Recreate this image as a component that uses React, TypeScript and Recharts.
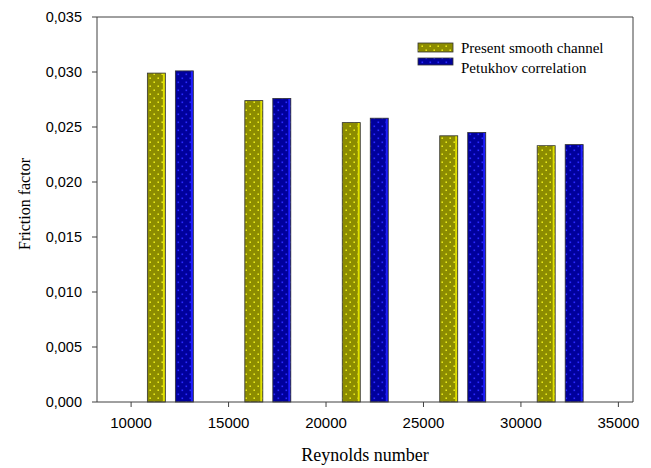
import React from 'react';
import { BarChart, Bar, XAxis, YAxis, ReferenceLine, Label } from 'recharts';

const reynolds = [12000, 17000, 22000, 27000, 32000];
const presentSmooth = [0.0299, 0.0274, 0.0254, 0.0242, 0.0233];
const petukhov = [0.0301, 0.0276, 0.0258, 0.0245, 0.0234];
const xTicks = [10000, 15000, 20000, 25000, 30000, 35000];
const yTicks = [0, 0.005, 0.01, 0.015, 0.02, 0.025, 0.03, 0.035];
const seriesNames = ['Present smooth channel', 'Petukhov correlation'];

const data = reynolds.map((re, i) => ({ re, present: presentSmooth[i], petukhov: petukhov[i] }));

const SERIF = '"Liberation Serif", "Times New Roman", serif';
const SANS = '"Liberation Sans", Arial, sans-serif';
const AXIS = '#404040';

const makeShape = (fillId: string, edge: string) => (props: any) => {
  const { x, y, width, height } = props;
  if (height <= 0) return null;
  return (
    <g>
      <rect x={x} y={y} width={width} height={height} fill={`url(#${fillId})`} />
      <rect x={x + width - 2.5} y={y} width={2} height={height} fill={edge} />
      <rect x={x} y={y} width={width} height={height} fill="none" stroke="#333" strokeWidth={0.8} />
    </g>
  );
};

const OliveShape = makeShape('olivePat', '#e0e000');
const BlueShape = makeShape('bluePat', '#1e1eff');

const PatternDefs = ({ prefix }: { prefix: string }) => (
  <defs>
    <pattern id={`${prefix}olivePat`} width={8} height={8} patternUnits="userSpaceOnUse">
      <rect width={8} height={8} fill="#8c8c00" />
      <rect x={1.5} y={1.5} width={1.4} height={1.4} fill="#ffff20" />
      <rect x={5.5} y={5.5} width={1.4} height={1.4} fill="#ffff20" />
    </pattern>
    <pattern id={`${prefix}bluePat`} width={8} height={8} patternUnits="userSpaceOnUse">
      <rect width={8} height={8} fill="#00009c" />
      <rect x={1.5} y={1.5} width={1.6} height={1.6} fill="#2a2aff" />
      <rect x={5.5} y={5.5} width={1.6} height={1.6} fill="#2a2aff" />
    </pattern>
  </defs>
);

export default function App() {
  return (
    <div style={{ position: 'relative', width: 643, height: 460 }}>
      <BarChart width={643} height={460} data={data} margin={{ top: 9, right: 18, left: 0, bottom: 0 }} barGap={10}>
        <PatternDefs prefix="" />
        <XAxis
          dataKey="re"
          type="number"
          domain={[8250, 35750]}
          ticks={xTicks}
          height={66}
          tickSize={5}
          tickMargin={10}
          stroke={AXIS}
          tick={{ fill: '#000', fontSize: 15, fontFamily: SANS }}
          allowDataOverflow
        >
          <Label value="Reynolds number" position="insideBottom" offset={7} style={{ fontSize: 18, fontFamily: SERIF, fill: '#000' }} />
        </XAxis>
        <YAxis
          type="number"
          domain={[0, 0.035]}
          ticks={yTicks}
          width={89}
          tickSize={5}
          tickMargin={10}
          stroke={AXIS}
          tickFormatter={(v: number) => v.toFixed(3).replace('.', ',')}
          tick={{ fill: '#000', fontSize: 14.5, fontFamily: SANS }}
        >
          <Label value="Friction factor" angle={-90} position="center" dx={-28.5} dy={-5.5} style={{ fontSize: 16, fontFamily: SERIF, fill: '#000' }} />
        </YAxis>
        <ReferenceLine y={0.035} stroke={AXIS} />
        <ReferenceLine x={35750} stroke={AXIS} />
        <Bar dataKey="present" name={seriesNames[0]} barSize={18} shape={OliveShape} isAnimationActive={false} />
        <Bar dataKey="petukhov" name={seriesNames[1]} barSize={18} shape={BlueShape} isAnimationActive={false} />
      </BarChart>
      <svg width={643} height={460} style={{ position: 'absolute', left: 0, top: 0, pointerEvents: 'none' }}>
        <PatternDefs prefix="lg" />
        <rect x={410} y={35} width={35} height={9} fill="url(#lgolivePat)" stroke="#333" strokeWidth={0.8} />
        <text x={453} y={45} fontSize={15} fontFamily={SERIF} fill="#000">{seriesNames[0]}</text>
        <rect x={410} y={50} width={35} height={7} fill="url(#lgbluePat)" stroke="#333" strokeWidth={0.8} />
        <text x={453} y={64.5} fontSize={15} fontFamily={SERIF} fill="#000">{seriesNames[1]}</text>
      </svg>
    </div>
  );
}
